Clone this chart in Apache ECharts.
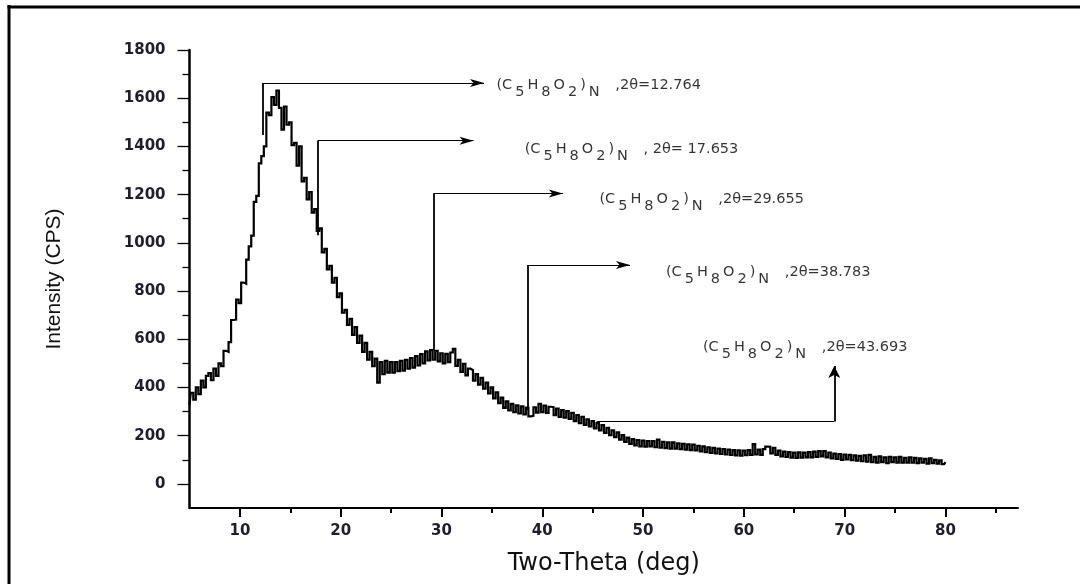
<!DOCTYPE html>
<html>
<head>
<meta charset="utf-8">
<script src="https://cdn.jsdelivr.net/npm/echarts@6/dist/echarts.min.js"></script>
<style>
html,body{margin:0;padding:0;background:#fff;overflow:hidden;}
#chart{width:1080px;height:584px;}
</style>
</head>
<body>
<div id="chart"></div>
<script>
// ---- data ----
const twoTheta = [
 5,5.25,5.5,5.75,6,6.25,6.5,6.75,
 7,7.25,7.5,7.75,8,8.25,8.5,8.75,
 9,9.25,9.5,9.75,10,10.25,10.5,10.75,
 11,11.25,11.5,11.75,12,12.25,12.5,12.75,
 13,13.25,13.5,13.75,14,14.25,14.5,14.75,
 15,15.25,15.5,15.75,16,16.25,16.5,16.75,
 17,17.25,17.5,17.75,18,18.25,18.5,18.75,
 19,19.25,19.5,19.75,20,20.25,20.5,20.75,
 21,21.25,21.5,21.75,22,22.25,22.5,22.75,
 23,23.25,23.5,23.75,24,24.25,24.5,24.75,
 25,25.25,25.5,25.75,26,26.25,26.5,26.75,
 27,27.25,27.5,27.75,28,28.25,28.5,28.75,
 29,29.25,29.5,29.75,30,30.25,30.5,30.75,
 31,31.25,31.5,31.75,32,32.25,32.5,32.75,
 33,33.25,33.5,33.75,34,34.25,34.5,34.75,
 35,35.25,35.5,35.75,36,36.25,36.5,36.75,
 37,37.25,37.5,37.75,38,38.25,38.5,38.75,
 39,39.25,39.5,39.75,40,40.25,40.5,40.75,
 41,41.25,41.5,41.75,42,42.25,42.5,42.75,
 43,43.25,43.5,43.75,44,44.25,44.5,44.75,
 45,45.25,45.5,45.75,46,46.25,46.5,46.75,
 47,47.25,47.5,47.75,48,48.25,48.5,48.75,
 49,49.25,49.5,49.75,50,50.25,50.5,50.75,
 51,51.25,51.5,51.75,52,52.25,52.5,52.75,
 53,53.25,53.5,53.75,54,54.25,54.5,54.75,
 55,55.25,55.5,55.75,56,56.25,56.5,56.75,
 57,57.25,57.5,57.75,58,58.25,58.5,58.75,
 59,59.25,59.5,59.75,60,60.25,60.5,60.75,
 61,61.25,61.5,61.75,62,62.25,62.5,62.75,
 63,63.25,63.5,63.75,64,64.25,64.5,64.75,
 65,65.25,65.5,65.75,66,66.25,66.5,66.75,
 67,67.25,67.5,67.75,68,68.25,68.5,68.75,
 69,69.25,69.5,69.75,70,70.25,70.5,70.75,
 71,71.25,71.5,71.75,72,72.25,72.5,72.75,
 73,73.25,73.5,73.75,74,74.25,74.5,74.75,
 75,75.25,75.5,75.75,76,76.25,76.5,76.75,
 77,77.25,77.5,77.75,78,78.25,78.5,78.75,
 79,79.25,79.5,79.75,80
];
const intensityCPS = [
 328,378,350,400,372,428,400,448,
 460,430,478,448,500,488,552,548,
 588,680,682,765,750,835,830,930,
 985,1030,1170,1195,1330,1360,1400,1540,
 1530,1605,1572,1632,1560,1470,1565,1490,
 1500,1405,1415,1320,1400,1255,1270,1180,
 1210,1125,1140,1050,1060,960,975,890,
 905,835,855,775,790,710,722,660,
 685,618,650,585,615,548,585,515,
 548,488,520,420,505,455,510,462,
 505,462,505,468,510,470,515,478,
 522,482,530,492,538,500,550,512,
 555,515,552,508,542,500,540,505,
 545,560,490,515,465,498,450,478,
 472,428,455,412,440,395,420,375,
 400,355,380,335,358,315,342,305,
 332,298,326,292,322,288,316,280,
 282,318,296,332,298,325,295,320,
 318,285,312,278,306,275,302,270,
 295,260,285,252,278,245,268,238,
 260,230,252,222,244,212,232,202,
 222,194,214,184,202,174,192,166,
 186,160,182,156,180,155,178,156,
 178,152,184,150,174,148,172,146,
 172,146,168,144,166,142,164,140,
 163,139,158,135,156,132,152,129,
 150,126,146,124,144,122,142,120,
 140,118,139,117,138,119,140,120,
 165,122,142,120,144,155,154,126,
 150,120,138,114,134,112,132,109,
 130,108,131,109,130,110,132,110,
 134,112,136,114,136,110,130,106,
 126,104,124,100,122,102,120,98,
 118,96,116,94,118,92,120,90,
 112,88,114,90,110,86,112,90,
 110,88,112,88,108,88,110,88,
 108,86,106,88,104,84,106,86,
 100,84,98,82,90
];
const xTickLabels = [10, 20, 30, 40, 50, 60, 70, 80];
const yTickLabels = [0, 200, 400, 600, 800, 1000, 1200, 1400, 1600, 1800];

// peak annotations (bracket lines with arrows)
const annoX      = [12.26, 17.72, 29.2, 38.53];
const annoBase   = [1447, 1032, 555, 306];
const annoTop    = [1663, 1424, 1205, 908];
const annoArrowX = [34.22, 33.18, 42.04, 48.7];
const lastAnnoStartX = 45.4, lastAnnoX = 68.97, lastAnnoY = 259, lastAnnoArrowY = 489;

const labelX = [35.45, 38.25, 45.67, 52.27, 55.94];
const labelY = [1657, 1389, 1183, 882, 569];
const labelText = [',2θ=12.764', ', 2θ= 17.653', ',2θ=29.655', ',2θ=38.783', ',2θ=43.693'];

// ---- build chart ----
const curve = twoTheta.map((t, i) => [t, intensityCPS[i]]);

const segs = [];
for (let i = 0; i < annoX.length; i++) {
  segs.push([
    {coord: [annoX[i], annoBase[i]], symbol: 'none', lineStyle: {width: 1.8}},
    {coord: [annoX[i], annoTop[i]], symbol: 'none'}
  ]);
  segs.push([
    {coord: [annoX[i], annoTop[i]], symbol: 'none', lineStyle: {width: 1.2}},
    {coord: [annoArrowX[i], annoTop[i]], symbol: 'arrow', symbolSize: [6, 14]}
  ]);
}
segs.push([
  {coord: [lastAnnoStartX, lastAnnoY], symbol: 'none', lineStyle: {width: 1.2}},
  {coord: [lastAnnoX, lastAnnoY], symbol: 'none'}
]);
segs.push([
  {coord: [lastAnnoX, lastAnnoY], symbol: 'none', lineStyle: {width: 1.8}},
  {coord: [lastAnnoX, lastAnnoArrowY], symbol: 'arrow', symbolSize: [9, 12]}
]);

const labelData = labelX.map((x, i) => [x, labelY[i]]);

const txt = {fontFamily: 'DejaVu Sans', fontSize: 14.5, color: '#000', lineHeight: 14};
const plain = v => String(v);

const chart = echarts.init(document.getElementById('chart'), null, {renderer: 'canvas'});
chart.setOption({
  animation: false,
  backgroundColor: '#ffffff',
  grid: {left: 189.5, right: 62, top: 50, bottom: 76, containLabel: false},
  graphic: [
    {type: 'line', shape: {x1: 9, y1: 5, x2: 9, y2: 584}, style: {stroke: '#000', lineWidth: 3}, silent: true},
    {type: 'line', shape: {x1: 7.5, y1: 7, x2: 1080, y2: 7}, style: {stroke: '#000', lineWidth: 3}, silent: true}
  ],
  xAxis: {
    type: 'value', min: 5, max: 87.2, splitNumber: 8,
    name: 'Two-Theta (deg)', nameLocation: 'middle', nameGap: 44,
    nameTextStyle: {fontFamily: 'DejaVu Sans', fontSize: 24, color: '#111'},
    axisLine: {show: true, onZero: false, lineStyle: {color: '#000', width: 2}},
    axisTick: {show: true, inside: false, length: 9, customValues: xTickLabels, lineStyle: {color: '#000', width: 2}},
    minorTick: {show: true, splitNumber: 2, length: 5, lineStyle: {color: '#000', width: 2}},
    axisLabel: {customValues: xTickLabels, formatter: plain, margin: 16, fontFamily: 'DejaVu Sans', fontWeight: 'bold', fontSize: 15, color: '#1f1f2a'},
    splitLine: {show: false}, minorSplitLine: {show: false}
  },
  yAxis: {
    type: 'value', min: -100, max: 1800, splitNumber: 9,
    name: 'Intensity (CPS)', nameLocation: 'middle', nameGap: 125,
    nameTextStyle: {fontFamily: 'Liberation Sans', fontSize: 21, color: '#111'},
    axisLine: {show: true, onZero: false, lineStyle: {color: '#000', width: 2.5}},
    axisTick: {show: true, inside: false, length: 12, customValues: yTickLabels, lineStyle: {color: '#000', width: 1.3}},
    minorTick: {show: true, splitNumber: 2, length: 7, lineStyle: {color: '#000', width: 1.3}},
    axisLabel: {customValues: yTickLabels, formatter: plain, margin: 24, fontFamily: 'DejaVu Sans', fontWeight: 'bold', fontSize: 15, color: '#1f1f2a'},
    splitLine: {show: false}, minorSplitLine: {show: false}
  },
  series: [
    {
      name: 'XRD', type: 'line', data: curve, showSymbol: false, symbol: 'none',
      step: 'middle',
      lineStyle: {color: '#000', width: 2.2, join: 'miter'}, silent: true,
      markLine: {
        silent: true, animation: false, symbol: ['none', 'none'],
        label: {show: false}, emphasis: {disabled: true},
        lineStyle: {color: '#000', type: 'solid', width: 1.2},
        data: segs
      }
    },
    {
      name: 'labels', type: 'scatter', data: labelData, symbolSize: 0, silent: true,
      itemStyle: {color: 'rgba(0,0,0,0)'},
      label: {
        show: true, position: 'right', distance: 0, offset: [0, 4],
        formatter: p => '{n|(C}{s|5}{n|H}{s|8}{n|O}{s|2}{n|)}{s|N}{g| }{n|' + labelText[p.dataIndex] + '}',
        rich: {
          n: Object.assign({}, txt, {verticalAlign: 'top'}),
          s: Object.assign({}, txt, {verticalAlign: 'bottom', padding: [0, 3, 0, 3]}),
          g: Object.assign({}, txt, {lineHeight: 22, padding: [0, 4, 0, 4]})
        }
      }
    }
  ]
});
</script>
</body>
</html>
